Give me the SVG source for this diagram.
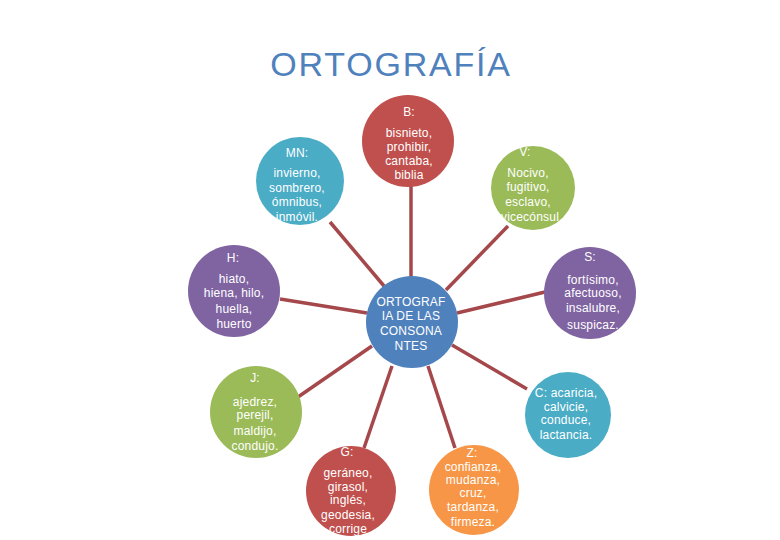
<svg xmlns="http://www.w3.org/2000/svg" width="780" height="540" viewBox="0 0 780 540">
<style>
.t{font-family:"Liberation Sans",Arial,sans-serif;font-size:12px;fill:#ffffff;text-anchor:middle;letter-spacing:0.2px}
.c{stroke:#a5484c;stroke-width:3.5;fill:none;stroke-linecap:butt}
.title{font-family:"Liberation Sans",Arial,sans-serif;font-size:34px;fill:#4f81bd;text-anchor:middle;letter-spacing:1.8px}
</style>
<rect width="780" height="540" fill="#ffffff"/>
<text class="title" x="391" y="76">ORTOGRAFÍA</text>
<g id="connectors">
<line class="c" x1="411" y1="185" x2="411" y2="278"/>
<line class="c" x1="330" y1="222" x2="384" y2="286"/>
<line class="c" x1="508" y1="226" x2="446" y2="290"/>
<line class="c" x1="280" y1="299" x2="367" y2="313"/>
<line class="c" x1="545" y1="292" x2="457" y2="313"/>
<line class="c" x1="298" y1="397" x2="372" y2="346"/>
<line class="c" x1="527" y1="389" x2="452" y2="345"/>
<line class="c" x1="392" y1="366" x2="364" y2="448"/>
<line class="c" x1="428" y1="366" x2="455" y2="448"/>
</g>
<g id="center">
<circle cx="412" cy="322" r="46" fill="#4f81bd"/>
<text class="t" x="411" y="306">ORTOGRAF</text>
<text class="t" x="411" y="320">IA DE LAS</text>
<text class="t" x="411" y="335">CONSONA</text>
<text class="t" x="411" y="350">NTES</text>
</g>
<g id="nodeB">
<circle cx="408" cy="141" r="46" fill="#c0504d"/>
<text class="t" x="409" y="116">B:</text>
<text class="t" x="409" y="137">bisnieto,</text>
<text class="t" x="409" y="151">prohibir,</text>
<text class="t" x="409" y="165">cantaba,</text>
<text class="t" x="409" y="179">biblia</text>
</g>
<g id="nodeMN">
<circle cx="300" cy="181" r="44" fill="#4bacc6"/>
<text class="t" x="297" y="157">MN:</text>
<text class="t" x="297" y="177">invierno,</text>
<text class="t" x="297" y="192">sombrero,</text>
<text class="t" x="297" y="206">ómnibus,</text>
<text class="t" x="297" y="221">inmóvil.</text>
</g>
<g id="nodeV">
<circle cx="533" cy="188" r="42" fill="#9bbb59"/>
<text class="t" x="525" y="156">V:</text>
<text class="t" x="528" y="177">Nocivo,</text>
<text class="t" x="528" y="191">fugitivo,</text>
<text class="t" x="528" y="206">esclavo,</text>
<text class="t" x="530" y="221">vicecónsul</text>
</g>
<g id="nodeH">
<circle cx="234" cy="291" r="46" fill="#8064a2"/>
<text class="t" x="233" y="262">H:</text>
<text class="t" x="234" y="283">hiato,</text>
<text class="t" x="234" y="297">hiena, hilo,</text>
<text class="t" x="234" y="313">huella,</text>
<text class="t" x="234" y="328">huerto</text>
</g>
<g id="nodeS">
<circle cx="590" cy="293" r="46" fill="#8064a2"/>
<text class="t" x="590" y="261">S:</text>
<text class="t" x="593" y="284">fortísimo,</text>
<text class="t" x="593" y="297">afectuoso,</text>
<text class="t" x="593" y="312">insalubre,</text>
<text class="t" x="593" y="329">suspicaz.</text>
</g>
<g id="nodeJ">
<circle cx="256" cy="412" r="46" fill="#9bbb59"/>
<text class="t" x="255" y="382">J:</text>
<text class="t" x="255" y="406">ajedrez,</text>
<text class="t" x="255" y="419">perejil,</text>
<text class="t" x="255" y="435">maldijo,</text>
<text class="t" x="255" y="450">condujo.</text>
</g>
<g id="nodeC">
<circle cx="568" cy="415" r="43" fill="#4bacc6"/>
<text class="t" x="566" y="397">C: acaricia,</text>
<text class="t" x="566" y="411">calvicie,</text>
<text class="t" x="566" y="424">conduce,</text>
<text class="t" x="566" y="439">lactancia.</text>
</g>
<g id="nodeG">
<circle cx="351" cy="491" r="45" fill="#c0504d"/>
<text class="t" x="347" y="456">G:</text>
<text class="t" x="348" y="477">geráneo,</text>
<text class="t" x="348" y="491">girasol,</text>
<text class="t" x="348" y="504">inglés,</text>
<text class="t" x="348" y="519">geodesia,</text>
<text class="t" x="348" y="533">corrige</text>
</g>
<g id="nodeZ">
<circle cx="474" cy="490" r="45" fill="#f79646"/>
<text class="t" x="472" y="457">Z:</text>
<text class="t" x="473" y="471">confianza,</text>
<text class="t" x="473" y="484">mudanza,</text>
<text class="t" x="473" y="497">cruz,</text>
<text class="t" x="473" y="511">tardanza,</text>
<text class="t" x="473" y="526">firmeza.</text>
</g>
</svg>
